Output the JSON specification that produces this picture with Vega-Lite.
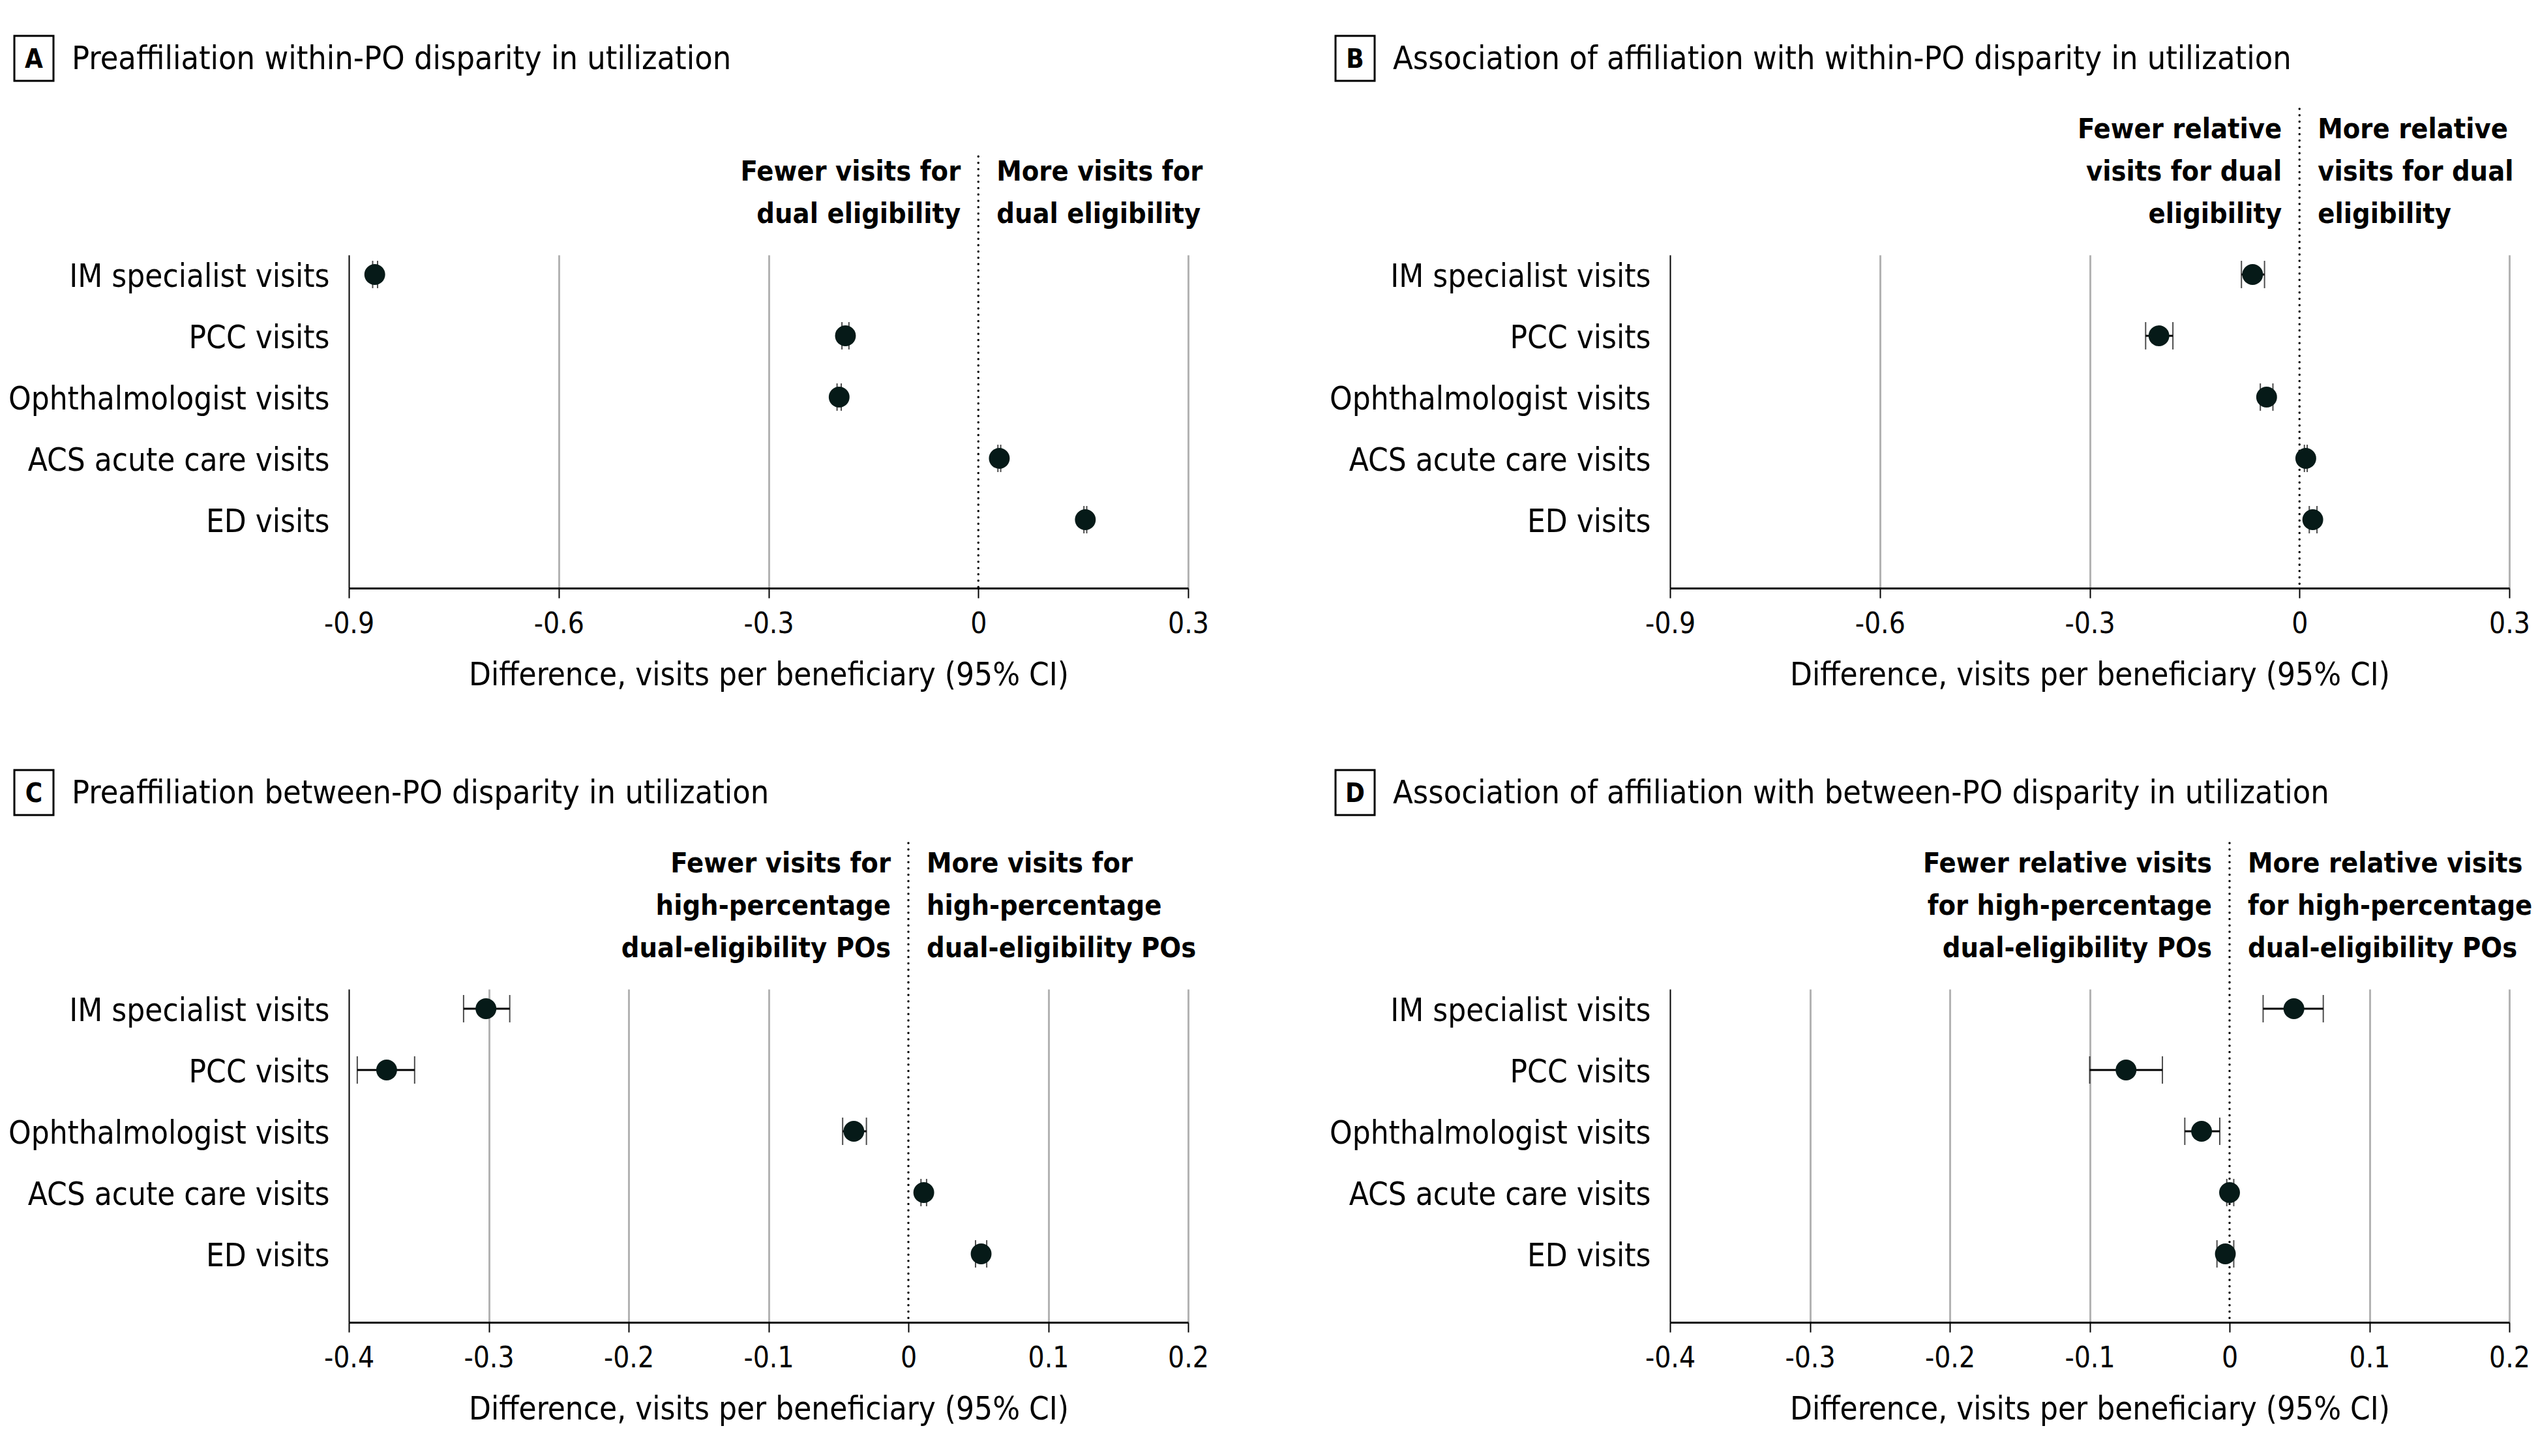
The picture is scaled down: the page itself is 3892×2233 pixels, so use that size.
{
  "$schema": "https://vega.github.io/schema/vega-lite/v6.json",
  "background": "white",
  "padding": {"left": 12, "top": 53, "right": 0, "bottom": 20},
  "config": {
    "view": {"stroke": null},
    "font": "DejaVu Sans Condensed",
    "text": {"font": "DejaVu Sans Condensed", "color": "black"},
    "axisX": {
      "domainColor": "black", "domainWidth": 3,
      "tickColor": "black", "tickWidth": 2, "tickSize": 15,
      "labelFont": "DejaVu Sans Condensed", "labelFontSize": 44, "labelColor": "black", "labelPadding": 18,
      "labelFlush": false, "labelOverlap": false,
      "titleFont": "DejaVu Sans Condensed", "titleFontSize": 49, "titleFontWeight": "normal", "titleColor": "black", "titlePadding": 32,
      "gridWidth": 3
    },
    "axisY": {
      "domainColor": "black", "domainWidth": 2,
      "ticks": false, "grid": false,
      "labelFont": "DejaVu Sans Condensed", "labelFontSize": 49, "labelColor": "black", "labelPadding": 30,
      "labelLimit": 1000, "labelBaseline": "middle", "labelOffset": 4
    }
  },
  "datasets": {
    "a": [
      {"measure": "IM specialist visits", "est": -0.863, "lo": -0.866, "hi": -0.859},
      {"measure": "PCC visits", "est": -0.190, "lo": -0.195, "hi": -0.185},
      {"measure": "Ophthalmologist visits", "est": -0.199, "lo": -0.202, "hi": -0.196},
      {"measure": "ACS acute care visits", "est": 0.030, "lo": 0.028, "hi": 0.032},
      {"measure": "ED visits", "est": 0.153, "lo": 0.151, "hi": 0.155}
    ],
    "b": [
      {"measure": "IM specialist visits", "est": -0.067, "lo": -0.083, "hi": -0.050},
      {"measure": "PCC visits", "est": -0.201, "lo": -0.220, "hi": -0.181},
      {"measure": "Ophthalmologist visits", "est": -0.047, "lo": -0.056, "hi": -0.038},
      {"measure": "ACS acute care visits", "est": 0.009, "lo": 0.007, "hi": 0.011},
      {"measure": "ED visits", "est": 0.019, "lo": 0.014, "hi": 0.025}
    ],
    "c": [
      {"measure": "IM specialist visits", "est": -0.302, "lo": -0.318, "hi": -0.285},
      {"measure": "PCC visits", "est": -0.373, "lo": -0.394, "hi": -0.353},
      {"measure": "Ophthalmologist visits", "est": -0.039, "lo": -0.047, "hi": -0.030},
      {"measure": "ACS acute care visits", "est": 0.011, "lo": 0.009, "hi": 0.013},
      {"measure": "ED visits", "est": 0.052, "lo": 0.048, "hi": 0.056}
    ],
    "d": [
      {"measure": "IM specialist visits", "est": 0.046, "lo": 0.024, "hi": 0.067},
      {"measure": "PCC visits", "est": -0.074, "lo": -0.100, "hi": -0.048},
      {"measure": "Ophthalmologist visits", "est": -0.020, "lo": -0.032, "hi": -0.007},
      {"measure": "ACS acute care visits", "est": 0.000, "lo": -0.002, "hi": 0.003},
      {"measure": "ED visits", "est": -0.003, "lo": -0.009, "hi": 0.003}
    ]
  },
  "columns": 2,
  "bounds": "flush",
  "spacing": {"row": 615, "column": 739},
  "concat": [
    {
      "width": 1287, "height": 511,
      "data": {"name": "a"},
      "layer": [
        {"data": {"values": [{}]}, "mark": {"type": "rect", "fill": "white", "stroke": "black", "strokeWidth": 3},
         "encoding": {"x": {"value": -513}, "x2": {"value": -453}, "y": {"value": -336}, "y2": {"value": -267}}},
        {"data": {"values": [{}]}, "mark": {"type": "text", "text": "A", "fontWeight": "bold", "fontSize": 40, "align": "center", "baseline": "alphabetic"},
         "encoding": {"x": {"value": -483}, "y": {"value": -287}}},
        {"data": {"values": [{}]}, "mark": {"type": "text", "text": "Preaffiliation within-PO disparity in utilization", "fontSize": 50, "align": "left", "baseline": "alphabetic"},
         "encoding": {"x": {"value": -425}, "y": {"value": -285}}},
        {"data": {"values": [{}]}, "mark": {"type": "rule", "color": "black", "strokeWidth": 3.5, "strokeCap": "round", "strokeDash": [0.01, 9.7]},
         "encoding": {"x": {"datum": 0, "type": "quantitative"}, "y": {"value": -151}, "y2": {"value": 511}}},
        {"data": {"values": [{}]}, "mark": {"type": "text", "text": ["Fewer visits for", "dual eligibility"], "fontWeight": "bold", "fontSize": 43, "lineHeight": 65, "align": "right", "baseline": "alphabetic", "dx": -27},
         "encoding": {"x": {"datum": 0, "type": "quantitative"}, "y": {"value": -114}}},
        {"data": {"values": [{}]}, "mark": {"type": "text", "text": ["More visits for", "dual eligibility"], "fontWeight": "bold", "fontSize": 43, "lineHeight": 65, "align": "left", "baseline": "alphabetic", "dx": 28},
         "encoding": {"x": {"datum": 0, "type": "quantitative"}, "y": {"value": -114}}},
        {"mark": {"type": "rule", "color": "black", "strokeWidth": 3},
         "encoding": {
           "x": {"field": "lo", "type": "quantitative", "title": "Difference, visits per beneficiary (95% CI)",
                 "scale": {"domain": [-0.9, 0.3], "nice": false, "zero": false},
                 "axis": {"values": [-0.9, -0.6, -0.3, 0, 0.3], "grid": true,
                          "gridColor": {"condition": {"test": "datum.value === 0 || datum.value === -0.9", "value": "transparent"}, "value": "#b3b3b3"},
                          "labelExpr": "datum.value === 0 ? '0' : replace(format(datum.value, '.1f'), '−', '-')"}},
           "x2": {"field": "hi"},
           "y": {"field": "measure", "type": "nominal", "sort": null, "title": null, "scale": {"type": "point", "padding": 0.718, "align": 0.222}}
         }},
        {"mark": {"type": "tick", "color": "black", "thickness": 2, "size": 42},
         "encoding": {"x": {"field": "lo", "type": "quantitative", "title": "Difference, visits per beneficiary (95% CI)"}, "y": {"field": "measure", "type": "nominal", "sort": null, "title": null}}},
        {"mark": {"type": "tick", "color": "black", "thickness": 2, "size": 42},
         "encoding": {"x": {"field": "hi", "type": "quantitative", "title": "Difference, visits per beneficiary (95% CI)"}, "y": {"field": "measure", "type": "nominal", "sort": null, "title": null}}},
        {"mark": {"type": "point", "filled": true, "size": 1018, "color": "#061a18", "opacity": 1},
         "encoding": {"x": {"field": "est", "type": "quantitative", "title": "Difference, visits per beneficiary (95% CI)"}, "y": {"field": "measure", "type": "nominal", "sort": null, "title": null}}}
      ]
    },
    {
      "width": 1287, "height": 511,
      "data": {"name": "b"},
      "layer": [
        {"data": {"values": [{}]}, "mark": {"type": "rect", "fill": "white", "stroke": "black", "strokeWidth": 3},
         "encoding": {"x": {"value": -513}, "x2": {"value": -453}, "y": {"value": -336}, "y2": {"value": -267}}},
        {"data": {"values": [{}]}, "mark": {"type": "text", "text": "B", "fontWeight": "bold", "fontSize": 40, "align": "center", "baseline": "alphabetic"},
         "encoding": {"x": {"value": -483}, "y": {"value": -287}}},
        {"data": {"values": [{}]}, "mark": {"type": "text", "text": "Association of affiliation with within-PO disparity in utilization", "fontSize": 50, "align": "left", "baseline": "alphabetic"},
         "encoding": {"x": {"value": -425}, "y": {"value": -285}}},
        {"data": {"values": [{}]}, "mark": {"type": "rule", "color": "black", "strokeWidth": 3.5, "strokeCap": "round", "strokeDash": [0.01, 9.7]},
         "encoding": {"x": {"datum": 0, "type": "quantitative"}, "y": {"value": -224}, "y2": {"value": 511}}},
        {"data": {"values": [{}]}, "mark": {"type": "text", "text": ["Fewer relative", "visits for dual", "eligibility"], "fontWeight": "bold", "fontSize": 43, "lineHeight": 65, "align": "right", "baseline": "alphabetic", "dx": -27},
         "encoding": {"x": {"datum": 0, "type": "quantitative"}, "y": {"value": -179}}},
        {"data": {"values": [{}]}, "mark": {"type": "text", "text": ["More relative", "visits for dual", "eligibility"], "fontWeight": "bold", "fontSize": 43, "lineHeight": 65, "align": "left", "baseline": "alphabetic", "dx": 28},
         "encoding": {"x": {"datum": 0, "type": "quantitative"}, "y": {"value": -179}}},
        {"mark": {"type": "rule", "color": "black", "strokeWidth": 3},
         "encoding": {
           "x": {"field": "lo", "type": "quantitative", "title": "Difference, visits per beneficiary (95% CI)",
                 "scale": {"domain": [-0.9, 0.3], "nice": false, "zero": false},
                 "axis": {"values": [-0.9, -0.6, -0.3, 0, 0.3], "grid": true,
                          "gridColor": {"condition": {"test": "datum.value === 0 || datum.value === -0.9", "value": "transparent"}, "value": "#b3b3b3"},
                          "labelExpr": "datum.value === 0 ? '0' : replace(format(datum.value, '.1f'), '−', '-')"}},
           "x2": {"field": "hi"},
           "y": {"field": "measure", "type": "nominal", "sort": null, "title": null, "scale": {"type": "point", "padding": 0.718, "align": 0.222}}
         }},
        {"mark": {"type": "tick", "color": "black", "thickness": 2, "size": 42},
         "encoding": {"x": {"field": "lo", "type": "quantitative", "title": "Difference, visits per beneficiary (95% CI)"}, "y": {"field": "measure", "type": "nominal", "sort": null, "title": null}}},
        {"mark": {"type": "tick", "color": "black", "thickness": 2, "size": 42},
         "encoding": {"x": {"field": "hi", "type": "quantitative", "title": "Difference, visits per beneficiary (95% CI)"}, "y": {"field": "measure", "type": "nominal", "sort": null, "title": null}}},
        {"mark": {"type": "point", "filled": true, "size": 1018, "color": "#061a18", "opacity": 1},
         "encoding": {"x": {"field": "est", "type": "quantitative", "title": "Difference, visits per beneficiary (95% CI)"}, "y": {"field": "measure", "type": "nominal", "sort": null, "title": null}}}
      ]
    },
    {
      "width": 1287, "height": 511,
      "data": {"name": "c"},
      "layer": [
        {"data": {"values": [{}]}, "mark": {"type": "rect", "fill": "white", "stroke": "black", "strokeWidth": 3},
         "encoding": {"x": {"value": -513}, "x2": {"value": -453}, "y": {"value": -336}, "y2": {"value": -267}}},
        {"data": {"values": [{}]}, "mark": {"type": "text", "text": "C", "fontWeight": "bold", "fontSize": 40, "align": "center", "baseline": "alphabetic"},
         "encoding": {"x": {"value": -483}, "y": {"value": -287}}},
        {"data": {"values": [{}]}, "mark": {"type": "text", "text": "Preaffiliation between-PO disparity in utilization", "fontSize": 50, "align": "left", "baseline": "alphabetic"},
         "encoding": {"x": {"value": -425}, "y": {"value": -285}}},
        {"data": {"values": [{}]}, "mark": {"type": "rule", "color": "black", "strokeWidth": 3.5, "strokeCap": "round", "strokeDash": [0.01, 9.7]},
         "encoding": {"x": {"datum": 0, "type": "quantitative"}, "y": {"value": -224}, "y2": {"value": 511}}},
        {"data": {"values": [{}]}, "mark": {"type": "text", "text": ["Fewer visits for", "high-percentage", "dual-eligibility POs"], "fontWeight": "bold", "fontSize": 43, "lineHeight": 65, "align": "right", "baseline": "alphabetic", "dx": -27},
         "encoding": {"x": {"datum": 0, "type": "quantitative"}, "y": {"value": -179}}},
        {"data": {"values": [{}]}, "mark": {"type": "text", "text": ["More visits for", "high-percentage", "dual-eligibility POs"], "fontWeight": "bold", "fontSize": 43, "lineHeight": 65, "align": "left", "baseline": "alphabetic", "dx": 28},
         "encoding": {"x": {"datum": 0, "type": "quantitative"}, "y": {"value": -179}}},
        {"mark": {"type": "rule", "color": "black", "strokeWidth": 3},
         "encoding": {
           "x": {"field": "lo", "type": "quantitative", "title": "Difference, visits per beneficiary (95% CI)",
                 "scale": {"domain": [-0.4, 0.2], "nice": false, "zero": false},
                 "axis": {"values": [-0.4, -0.3, -0.2, -0.1, 0, 0.1, 0.2], "grid": true,
                          "gridColor": {"condition": {"test": "datum.value === 0 || datum.value === -0.4", "value": "transparent"}, "value": "#b3b3b3"},
                          "labelExpr": "datum.value === 0 ? '0' : replace(format(datum.value, '.1f'), '−', '-')"}},
           "x2": {"field": "hi"},
           "y": {"field": "measure", "type": "nominal", "sort": null, "title": null, "scale": {"type": "point", "padding": 0.718, "align": 0.222}}
         }},
        {"mark": {"type": "tick", "color": "black", "thickness": 2, "size": 42},
         "encoding": {"x": {"field": "lo", "type": "quantitative", "title": "Difference, visits per beneficiary (95% CI)"}, "y": {"field": "measure", "type": "nominal", "sort": null, "title": null}}},
        {"mark": {"type": "tick", "color": "black", "thickness": 2, "size": 42},
         "encoding": {"x": {"field": "hi", "type": "quantitative", "title": "Difference, visits per beneficiary (95% CI)"}, "y": {"field": "measure", "type": "nominal", "sort": null, "title": null}}},
        {"mark": {"type": "point", "filled": true, "size": 1018, "color": "#061a18", "opacity": 1},
         "encoding": {"x": {"field": "est", "type": "quantitative", "title": "Difference, visits per beneficiary (95% CI)"}, "y": {"field": "measure", "type": "nominal", "sort": null, "title": null}}}
      ]
    },
    {
      "width": 1287, "height": 511,
      "data": {"name": "d"},
      "layer": [
        {"data": {"values": [{}]}, "mark": {"type": "rect", "fill": "white", "stroke": "black", "strokeWidth": 3},
         "encoding": {"x": {"value": -513}, "x2": {"value": -453}, "y": {"value": -336}, "y2": {"value": -267}}},
        {"data": {"values": [{}]}, "mark": {"type": "text", "text": "D", "fontWeight": "bold", "fontSize": 40, "align": "center", "baseline": "alphabetic"},
         "encoding": {"x": {"value": -483}, "y": {"value": -287}}},
        {"data": {"values": [{}]}, "mark": {"type": "text", "text": "Association of affiliation with between-PO disparity in utilization", "fontSize": 50, "align": "left", "baseline": "alphabetic"},
         "encoding": {"x": {"value": -425}, "y": {"value": -285}}},
        {"data": {"values": [{}]}, "mark": {"type": "rule", "color": "black", "strokeWidth": 3.5, "strokeCap": "round", "strokeDash": [0.01, 9.7]},
         "encoding": {"x": {"datum": 0, "type": "quantitative"}, "y": {"value": -224}, "y2": {"value": 511}}},
        {"data": {"values": [{}]}, "mark": {"type": "text", "text": ["Fewer relative visits", "for high-percentage", "dual-eligibility POs"], "fontWeight": "bold", "fontSize": 43, "lineHeight": 65, "align": "right", "baseline": "alphabetic", "dx": -27},
         "encoding": {"x": {"datum": 0, "type": "quantitative"}, "y": {"value": -179}}},
        {"data": {"values": [{}]}, "mark": {"type": "text", "text": ["More relative visits", "for high-percentage", "dual-eligibility POs"], "fontWeight": "bold", "fontSize": 43, "lineHeight": 65, "align": "left", "baseline": "alphabetic", "dx": 28},
         "encoding": {"x": {"datum": 0, "type": "quantitative"}, "y": {"value": -179}}},
        {"mark": {"type": "rule", "color": "black", "strokeWidth": 3},
         "encoding": {
           "x": {"field": "lo", "type": "quantitative", "title": "Difference, visits per beneficiary (95% CI)",
                 "scale": {"domain": [-0.4, 0.2], "nice": false, "zero": false},
                 "axis": {"values": [-0.4, -0.3, -0.2, -0.1, 0, 0.1, 0.2], "grid": true,
                          "gridColor": {"condition": {"test": "datum.value === 0 || datum.value === -0.4", "value": "transparent"}, "value": "#b3b3b3"},
                          "labelExpr": "datum.value === 0 ? '0' : replace(format(datum.value, '.1f'), '−', '-')"}},
           "x2": {"field": "hi"},
           "y": {"field": "measure", "type": "nominal", "sort": null, "title": null, "scale": {"type": "point", "padding": 0.718, "align": 0.222}}
         }},
        {"mark": {"type": "tick", "color": "black", "thickness": 2, "size": 42},
         "encoding": {"x": {"field": "lo", "type": "quantitative", "title": "Difference, visits per beneficiary (95% CI)"}, "y": {"field": "measure", "type": "nominal", "sort": null, "title": null}}},
        {"mark": {"type": "tick", "color": "black", "thickness": 2, "size": 42},
         "encoding": {"x": {"field": "hi", "type": "quantitative", "title": "Difference, visits per beneficiary (95% CI)"}, "y": {"field": "measure", "type": "nominal", "sort": null, "title": null}}},
        {"mark": {"type": "point", "filled": true, "size": 1018, "color": "#061a18", "opacity": 1},
         "encoding": {"x": {"field": "est", "type": "quantitative", "title": "Difference, visits per beneficiary (95% CI)"}, "y": {"field": "measure", "type": "nominal", "sort": null, "title": null}}}
      ]
    }
  ]
}
